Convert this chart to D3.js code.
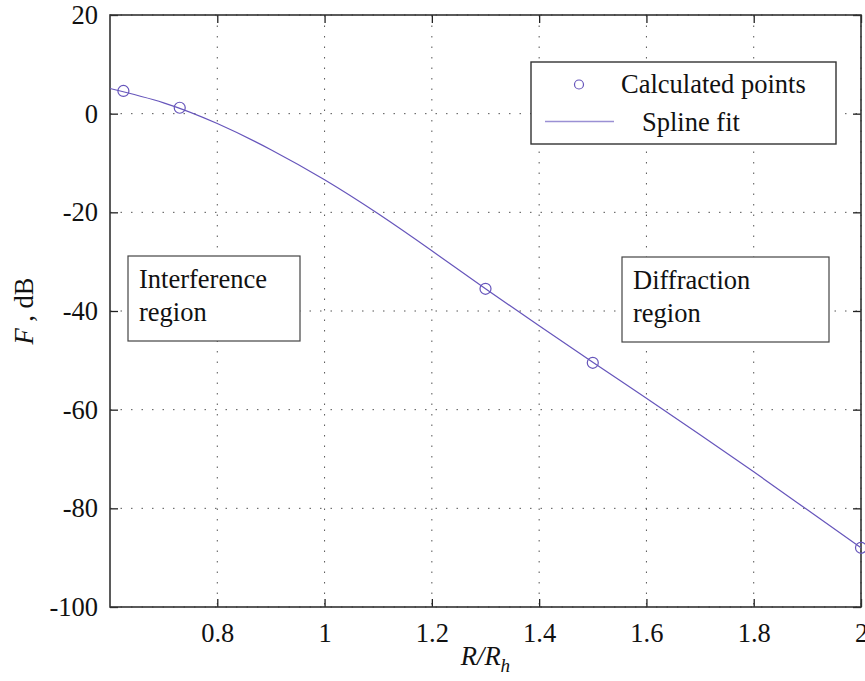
<!DOCTYPE html>
<html>
<head>
<meta charset="utf-8">
<script src="https://cdn.jsdelivr.net/npm/d3@7"></script>
<style>
	body { margin: 0; background: #fff; }
	svg { display: block; font-family: "Liberation Serif", "Times New Roman", serif; }
</style>
</head>
<body>
<svg id="chart" width="865" height="681"></svg>
<script>
// calculated points
var pointR = [ 0.625, 0.73, 1.3, 1.5, 2.0 ];
var pointF = [ 4.6, 1.2, -35.5, -50.5, -88.0 ];

// spline fit, every 0.1
var splineR = [ 0.6, 0.7, 0.8, 0.9, 1.0, 1.1, 1.2, 1.3, 1.4, 1.5, 1.6, 1.7, 1.8, 1.9, 2.0 ];
var splineF = [ 5.1, 2.2, -2.0, -7.3, -13.4, -20.3, -27.8, -35.5, -43.0, -50.4, -57.7, -65.1, -72.6, -80.3, -88.0 ];

var xTicks = [ 0.8, 1, 1.2, 1.4, 1.6, 1.8, 2 ];
var yTicks = [ -100, -80, -60, -40, -20, 0, 20 ];

var svg = d3.select( '#chart' );
var margin = { top: 15, right: 4, bottom: 74, left: 110 };
var width = 865 - margin.left - margin.right;
var height = 681 - margin.top - margin.bottom;
var g = svg.append( 'g' )
	.attr( 'transform', 'translate(' + margin.left + ',' + margin.top + ')' );

var x = d3.scaleLinear().domain( [ 0.6, 2 ] ).range( [ 0, width ] );
var y = d3.scaleLinear().domain( [ -100, 20 ] ).range( [ height, 0 ] );

var lineColor = '#6655bb';
var fontSize = 26.5;
var plain = function( d ) { return String( d ); };

// dotted grid
g.append( 'g' )
	.selectAll( 'line' )
	.data( xTicks )
	.join( 'line' )
	.attr( 'x1', function( d ) { return x( d ); } )
	.attr( 'x2', function( d ) { return x( d ); } )
	.attr( 'y1', 0 )
	.attr( 'y2', height )
	.attr( 'stroke', '#555' )
	.attr( 'stroke-width', 1 )
	.attr( 'stroke-dasharray', '1.5,9' );

g.append( 'g' )
	.selectAll( 'line' )
	.data( yTicks )
	.join( 'line' )
	.attr( 'x1', 0 )
	.attr( 'x2', width )
	.attr( 'y1', function( d ) { return y( d ); } )
	.attr( 'y2', function( d ) { return y( d ); } )
	.attr( 'stroke', '#555' )
	.attr( 'stroke-width', 1 )
	.attr( 'stroke-dasharray', '1.5,9' );

// axes (ticks inward, box style)
function styleAxis( sel ) {
	sel.select( '.domain' ).remove();
	sel.selectAll( '.tick line' ).attr( 'stroke', '#222' ).attr( 'stroke-width', 1.3 );
	sel.selectAll( '.tick text' )
		.attr( 'font-size', fontSize )
		.attr( 'font-family', '"Liberation Serif", serif' )
		.attr( 'fill', '#111' );
}

g.append( 'g' )
	.attr( 'transform', 'translate(0,' + height + ')' )
	.call( d3.axisBottom( x ).tickValues( xTicks ).tickFormat( plain ).tickSize( -8 ).tickPadding( 16 ) )
	.call( styleAxis );

g.append( 'g' )
	.call( d3.axisTop( x ).tickValues( xTicks ).tickSize( -8 ).tickFormat( '' ) )
	.call( styleAxis );

g.append( 'g' )
	.call( d3.axisLeft( y ).tickValues( yTicks ).tickFormat( plain ).tickSize( -8 ).tickPadding( 12 ) )
	.call( styleAxis );

g.append( 'g' )
	.attr( 'transform', 'translate(' + width + ',0)' )
	.call( d3.axisRight( y ).tickValues( yTicks ).tickSize( -8 ).tickFormat( '' ) )
	.call( styleAxis );

g.append( 'rect' )
	.attr( 'width', width )
	.attr( 'height', height )
	.attr( 'fill', 'none' )
	.attr( 'stroke', '#333' )
	.attr( 'stroke-width', 1.6 );

// spline fit
var spline = d3.line()
	.x( function( d, i ) { return x( splineR[ i ] ); } )
	.y( function( d ) { return y( d ); } )
	.curve( d3.curveNatural );

g.append( 'path' )
	.datum( splineF )
	.attr( 'fill', 'none' )
	.attr( 'stroke', lineColor )
	.attr( 'stroke-width', 1.2 )
	.attr( 'd', spline );

// calculated points
g.append( 'g' )
	.selectAll( 'circle' )
	.data( pointF )
	.join( 'circle' )
	.attr( 'cx', function( d, i ) { return x( pointR[ i ] ); } )
	.attr( 'cy', function( d ) { return y( d ); } )
	.attr( 'r', 5.5 )
	.attr( 'fill', 'none' )
	.attr( 'stroke', lineColor )
	.attr( 'stroke-width', 1.2 );

// region boxes
function textBox( bx, by, bw, bh, lines ) {
	svg.append( 'rect' )
		.attr( 'x', bx ).attr( 'y', by )
		.attr( 'width', bw ).attr( 'height', bh )
		.attr( 'fill', '#fff' )
		.attr( 'stroke', '#444' )
		.attr( 'stroke-width', 1.2 );
	var t = svg.append( 'text' )
		.attr( 'font-size', fontSize )
		.attr( 'fill', '#111' );
	lines.forEach( function( s, i ) {
		t.append( 'tspan' )
			.attr( 'x', bx + 11 )
			.attr( 'y', by + 32 + i * 33 )
			.text( s );
	} );
}

textBox( 128, 256, 172, 85, [ 'Interference', 'region' ] );
textBox( 622, 257, 207, 85, [ 'Diffraction', 'region' ] );

// legend
var legend = svg.append( 'g' );
legend.append( 'rect' )
	.attr( 'x', 531 ).attr( 'y', 62 )
	.attr( 'width', 305 ).attr( 'height', 82 )
	.attr( 'fill', '#fff' )
	.attr( 'stroke', '#333' )
	.attr( 'stroke-width', 1.4 );
legend.append( 'circle' )
	.attr( 'cx', 579 ).attr( 'cy', 84.5 ).attr( 'r', 4.5 )
	.attr( 'fill', 'none' ).attr( 'stroke', lineColor ).attr( 'stroke-width', 1.2 );
legend.append( 'line' )
	.attr( 'x1', 545 ).attr( 'x2', 614 )
	.attr( 'y1', 121.5 ).attr( 'y2', 121.5 )
	.attr( 'stroke', '#9a90d4' ).attr( 'stroke-width', 1.4 );
legend.append( 'text' )
	.attr( 'x', 621 ).attr( 'y', 93 )
	.attr( 'font-size', fontSize ).attr( 'fill', '#111' )
	.text( 'Calculated points' );
legend.append( 'text' )
	.attr( 'x', 642 ).attr( 'y', 130.5 )
	.attr( 'font-size', fontSize ).attr( 'fill', '#111' )
	.text( 'Spline fit' );

// axis labels
var yl = svg.append( 'text' )
	.attr( 'transform', 'translate(33,' + ( margin.top + height / 2 ) + ') rotate(-90)' )
	.attr( 'text-anchor', 'middle' )
	.attr( 'font-size', fontSize )
	.attr( 'fill', '#111' );
yl.append( 'tspan' ).attr( 'font-style', 'italic' ).text( 'F' );
yl.append( 'tspan' ).text( ' , dB' );

var xl = svg.append( 'text' )
	.attr( 'x', margin.left + width / 2 )
	.attr( 'y', 665 )
	.attr( 'text-anchor', 'middle' )
	.attr( 'font-size', fontSize )
	.attr( 'font-style', 'italic' )
	.attr( 'fill', '#111' );
xl.append( 'tspan' ).text( 'R/R' );
xl.append( 'tspan' ).attr( 'font-size', fontSize * 0.72 ).attr( 'dy', 7 ).text( 'h' );
</script>
</body>
</html>
